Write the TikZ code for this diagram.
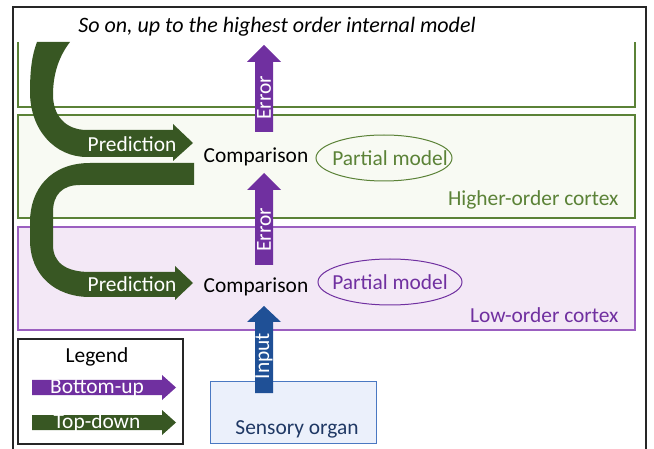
\documentclass[tikz,border=0pt]{standalone}
\usepackage{fontspec}
\setmainfont{Carlito}

\definecolor{topdown}{HTML}{385723}
\definecolor{bottomup}{HTML}{7030A0}
\definecolor{inputblue}{HTML}{1F5096}
\definecolor{hiline}{HTML}{5B8237}
\definecolor{hifill}{HTML}{F8FAF3}
\definecolor{loline}{HTML}{9B5FC0}
\definecolor{lofill}{HTML}{F3E8F6}
\definecolor{orgline}{HTML}{4A78C2}
\definecolor{orgfill}{HTML}{EBF0FB}
\definecolor{orgtext}{HTML}{1F3864}

\tikzset{
  cortex/.style={line width=1.2pt},
  arrowtxt/.style={text=white, inner sep=0pt}
}

\begin{document}
\begin{tikzpicture}[x=1pt, y=-1pt, font=\fontsize{21.4}{25}\selectfont]
            \useasboundingbox (0,0) rectangle (654,449);
            \def\Xe{264}; % error and input arrows
            \def\Xl{18}; % left of the cortex boxes
            \def\Xr{635}; % right of the cortex boxes

            % outer frame
            \draw[line width=1.2pt, black!85] (13,449) -- (13,7) -- (646,7) -- (646,449);

            % top box, open above
            \draw[cortex, hiline] (\Xl,42) -- (\Xl,107) -- (\Xr,107) -- (\Xr,42);
            \node (top) at (277,27) {\fontsize{22}{26}\selectfont\itshape So on, up to the highest order internal model};

            % higher-order cortex
            \draw[cortex, hiline, fill=hifill] (\Xl,115) rectangle (\Xr,218);
            \node[hiline, anchor=east] (hiname) at (622,200) {Higher-order cortex};

            % low-order cortex
            \draw[cortex, loline, fill=lofill] (\Xl,227) rectangle (\Xr,330);
            \node[bottomup, anchor=east] (loname) at (622,315) {Low-order cortex};

            % comparisons
            \node (cmpH) at (256,157) {Comparison};
            \node (cmpL) at (256,287) {Comparison};

            % partial models
            \draw[hiline, line width=1pt] (384,158) ellipse (68 and 23);
            \node[hiline] (modH) at (390,158) {Partial model};
            \draw[bottomup, line width=1pt] (390,282) ellipse (72 and 23);
            \node[bottomup] (modL) at (390,282) {Partial model};

            % upper prediction
            \fill[topdown] (37,42) .. controls (32,55) and (30,70) .. (30,92)
                .. controls (30,130) and (55,157) .. (87,157) -- (173,157) -- (173,161)
                -- (193,143) -- (173,124) -- (173,130) -- (87,130)
                .. controls (65,130) and (53,115) .. (53,95)
                .. controls (53,72) and (60,55) .. (70,42) -- cycle;
            \node[arrowtxt] (predH) at (132,144) {Prediction};

            % lower prediction
            \fill[topdown] (194,163) -- (90,163) .. controls (50,163) and (30,190) .. (30,222)
                -- (30,240) .. controls (30,275) and (55,297) .. (90,297) -- (175,297)
                -- (175,300) -- (193,283) -- (175,266) -- (175,272) -- (90,272)
                .. controls (65,272) and (53,262) .. (53,245) -- (53,212)
                .. controls (53,195) and (62,185) .. (80,185) -- (194,185) -- cycle;
            \node[arrowtxt] (predL) at (132,284) {Prediction};

            % error, upper
            \fill[bottomup] (\Xe-9,132) -- (\Xe-9,62) -- (\Xe-17,62) -- (\Xe,45)
                -- (\Xe+17,62) -- (\Xe+9,62) -- (\Xe+9,132) -- cycle;
            \node[arrowtxt, rotate=90] (errH) at (\Xe,98) {Error};

            % error, lower
            \fill[bottomup] (\Xe-9,265) -- (\Xe-9,190) -- (\Xe-17,190) -- (\Xe,173)
                -- (\Xe+17,190) -- (\Xe+9,190) -- (\Xe+9,265) -- cycle;
            \node[arrowtxt, rotate=90] (errL) at (\Xe,230) {Error};

            % sensory organ
            \node[draw=orgline, fill=orgfill, line width=1pt, minimum width=166pt, minimum height=61pt] (organ) at (293,412.5) {};
            \node[orgtext] (organtxt) at (297,429) {Sensory organ};

            % input
            \fill[inputblue] (\Xe-9,393) -- (\Xe-9,322) -- (\Xe-17,322) -- (\Xe,306)
                -- (\Xe+17,322) -- (\Xe+9,322) -- (\Xe+9,393) -- cycle;
            \node[arrowtxt, rotate=90] (inp) at (\Xe,356) {Input};

            % legend
            \draw[line width=1.2pt, black!85] (\Xl,339) rectangle (183,444);
            \node (legend) at (97,357) {Legend};
            \fill[bottomup] (32,380) -- (162,380) -- (162,375) -- (176,387.5)
                -- (162,400) -- (162,395) -- (32,395) -- cycle;
            \node[arrowtxt] (bu) at (97,388) {Bottom-up};
            \fill[topdown] (32,415) -- (162,415) -- (162,410) -- (176,422.5)
                -- (162,435) -- (162,430) -- (32,430) -- cycle;
            \node[arrowtxt] (td) at (97,423) {Top-down};

        \end{tikzpicture}
\end{document}
